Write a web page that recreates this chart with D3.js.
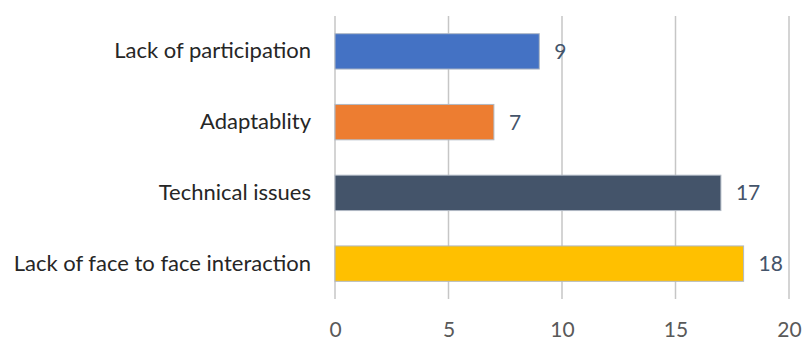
<!DOCTYPE html>
<html><head><meta charset="utf-8">
<script src="https://cdn.jsdelivr.net/npm/d3@7"></script>
<style>body{margin:0;background:#fff}svg{display:block}</style>
</head><body>
<svg id="c" width="805" height="341"></svg>
<script>
const categories = ["Lack of participation","Adaptablity","Technical issues","Lack of face to face interaction"];
const values = [9,7,17,18];
const colors = ["#4472C4","#ED7D31","#44546A","#FFC000"];
const ticks = [0,5,10,15,20];

const svg = d3.select("#c");
const font = "Lato, 'Open Sans', sans-serif";
const x = d3.scaleLinear().domain([0,20]).range([335,789]);
const y = d3.scaleBand().domain(categories).range([16,299]).paddingInner(0.5).paddingOuter(0.25);

// gridlines
svg.append("g").selectAll("line").data(ticks).join("line")
  .attr("x1",d=>x(d)).attr("x2",d=>x(d)).attr("y1",16).attr("y2",299)
  .attr("stroke","#c6c6c6").attr("stroke-width",1.5);

// bars
svg.append("g").selectAll("rect").data(categories).join("rect")
  .attr("x",x(0)).attr("y",d=>y(d))
  .attr("width",(d,i)=>x(values[i])-x(0)).attr("height",y.bandwidth())
  .attr("fill",(d,i)=>colors[i]).attr("stroke","#b0b8c4").attr("stroke-width",1);

// value labels
svg.append("g").selectAll("text").data(categories).join("text")
  .attr("x",(d,i)=>x(values[i])+15).attr("y",d=>y(d)+y.bandwidth()/2)
  .attr("dy","0.36em").attr("fill","#44546A").attr("font-family",font).attr("font-size",21)
  .text((d,i)=>values[i]);

// category labels
const yAxis = d3.axisLeft(y).tickSize(0).tickPadding(24);
const gy = svg.append("g").attr("transform",`translate(${x(0)},0)`).call(yAxis);
gy.select(".domain").remove();
gy.selectAll("text").attr("fill","#262626").attr("font-family",font).attr("font-size",22);

// x axis
const xAxis = d3.axisBottom(x).tickValues(ticks).tickSize(0).tickPadding(23);
const gx = svg.append("g").attr("transform","translate(0,299)").call(xAxis);
gx.select(".domain").remove();
gx.selectAll("text").attr("fill","#595959").attr("font-family",font).attr("font-size",21);
</script>
</body></html>
